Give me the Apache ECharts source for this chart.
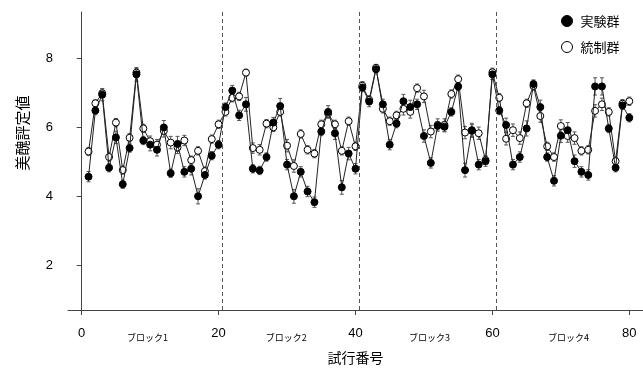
<!DOCTYPE html>
<html>
<head>
<meta charset="utf-8">
<script src="https://cdn.jsdelivr.net/npm/echarts@6/dist/echarts.min.js"></script>
<style>html,body{margin:0;padding:0;background:#fff}#c{width:643px;height:370px}</style>
</head>
<body>
<div id="c"></div>
<script>
// trials 1..80
const trials = Array.from({length: 80}, (_, i) => i + 1);
// 実験群 (filled)
const expVals = [4.57,6.49,6.95,4.83,5.71,4.35,5.40,7.54,5.62,5.50, 5.35,6.00,4.67,5.52,4.71,4.80,4.00,4.62,5.18,5.50,
  6.59,7.07,6.35,6.67,4.80,4.75,5.14,6.14,6.62,4.92, 4.00,4.71,4.14,3.83,5.88,6.45,5.83,4.26,5.24,4.80,
  7.16,6.75,7.69,6.67,5.50,6.11,6.76,6.59,6.67,5.75, 4.97,6.05,6.02,6.45,7.19,4.76,5.92,4.92,5.02,7.54,
  6.49,6.07,4.92,5.14,5.97,7.26,6.59,5.14,4.45,5.76, 5.92,5.02,4.71,4.62,7.19,7.19,5.97,4.83,6.64,6.28];
// 統制群 (open)
const ctrlVals = [5.30,6.70,6.99,5.14,6.14,4.76,5.70,7.59,5.97,5.60, 5.50,5.90,5.56,5.42,5.62,5.05,5.32,4.73,5.66,6.09,
  6.45,6.86,6.90,7.59,5.40,5.35,6.11,6.00,6.45,5.47, 4.88,5.81,5.35,5.24,6.09,6.40,6.09,5.32,6.18,5.45,
  7.21,6.80,7.73,6.54,6.18,6.35,6.54,6.45,7.14,6.90, 5.88,6.07,6.07,6.97,7.40,5.85,5.90,5.83,5.05,7.60,
  6.86,5.67,5.92,5.69,6.70,7.20,6.33,5.45,5.14,6.04, 5.75,5.69,5.32,5.35,6.48,6.67,6.45,5.02,6.69,6.76];
// standard errors (estimated)
const expSE = [0.15,0.12,0.18,0.12,0.18,0.12,0.12,0.2,0.12,0.18, 0.18,0.2,0.12,0.22,0.15,0.18,0.22,0.12,0.12,0.12,
  0.12,0.15,0.15,0.2,0.12,0.12,0.12,0.15,0.22,0.15, 0.2,0.15,0.15,0.15,0.12,0.18,0.18,0.2,0.18,0.15,
  0.12,0.15,0.1,0.15,0.15,0.12,0.2,0.2,0.15,0.18, 0.15,0.12,0.15,0.12,0.12,0.2,0.2,0.15,0.15,0.15,
  0.12,0.2,0.15,0.15,0.22,0.12,0.2,0.12,0.15,0.2, 0.22,0.18,0.15,0.15,0.25,0.25,0.12,0.12,0.12,0.12];
const ctrlSE = [0.12,0.1,0.12,0.12,0.12,0.12,0.12,0.12,0.12,0.15, 0.15,0.18,0.18,0.18,0.15,0.12,0.12,0.12,0.12,0.12,
  0.12,0.12,0.12,0.1,0.15,0.15,0.12,0.12,0.12,0.18, 0.18,0.12,0.12,0.12,0.12,0.12,0.12,0.12,0.12,0.12,
  0.12,0.12,0.1,0.12,0.12,0.12,0.18,0.18,0.12,0.18, 0.18,0.18,0.18,0.12,0.12,0.18,0.18,0.18,0.12,0.12,
  0.12,0.18,0.18,0.18,0.12,0.12,0.18,0.12,0.12,0.18, 0.18,0.18,0.12,0.12,0.18,0.18,0.12,0.12,0.12,0.12];
const xTicks = [0, 20, 40, 60, 80];
const yTicks = [2, 4, 6, 8];
const blockNames = ['ブロック1', 'ブロック2', 'ブロック3', 'ブロック4'];
const blockPos = [9.6, 29.9, 50.8, 71.1];
const blockBounds = [20.5, 40.5, 60.5];

const FONT = '"Liberation Sans", Arial, sans-serif';
const JFONT = '"Noto Sans CJK JP", sans-serif';

function errData(vals, se) { return trials.map((t, i) => [t, vals[i], se[i]]); }
function errRender(params, api) {
  const x = api.value(0), v = api.value(1), s = api.value(2);
  const hi = api.coord([x, v + s]), lo = api.coord([x, v - s]);
  const w = 2;
  const st = { stroke: '#555', lineWidth: 1 };
  return { type: 'group', children: [
    { type: 'line', shape: { x1: hi[0], y1: hi[1], x2: lo[0], y2: lo[1] }, style: st },
    { type: 'line', shape: { x1: hi[0] - w, y1: hi[1], x2: hi[0] + w, y2: hi[1] }, style: st },
    { type: 'line', shape: { x1: lo[0] - w, y1: lo[1], x2: lo[0] + w, y2: lo[1] }, style: st }
  ]};
}

const chart = echarts.init(document.getElementById('c'), null, { renderer: 'canvas' });
chart.setOption({
  animation: false,
  backgroundColor: '#fff',
  grid: { left: 68, right: 0, top: 12, bottom: 55 },
  legend: {
    orient: 'vertical', left: 556, top: 9, itemWidth: 11, itemHeight: 11, itemGap: 12,
    icon: 'circle',
    textStyle: { fontFamily: JFONT, fontSize: 13, color: '#000', lineHeight: 14, padding: [0, 0, 0, 3] },
    data: [
      { name: '実験群', itemStyle: { color: '#000', borderColor: '#000', borderWidth: 1 } },
      { name: '統制群', itemStyle: { color: '#fff', borderColor: '#000', borderWidth: 1 } }
    ]
  },
  xAxis: [{
    type: 'value', min: -2, max: 82,
    name: '試行番号', nameLocation: 'middle', nameGap: 41,
    nameTextStyle: { fontFamily: JFONT, fontSize: 14, color: '#000' },
    axisLine: { show: true, lineStyle: { color: '#444', width: 1 } },
    axisTick: { show: true, inside: false, length: 5, customValues: xTicks, lineStyle: { color: '#444' } },
    axisLabel: { customValues: xTicks, margin: 17, fontFamily: FONT, fontSize: 13, color: '#000' },
    splitLine: { show: false }
  }, {
    type: 'value', min: -2, max: 82, position: 'bottom',
    axisLine: { show: false }, axisTick: { show: false }, splitLine: { show: false },
    axisLabel: { customValues: blockPos, margin: 23, fontFamily: JFONT, fontSize: 9, color: '#000',
      formatter: (v) => blockNames[blockPos.indexOf(v)] }
  }],
  yAxis: {
    type: 'value', min: 0.7, max: 9.35,
    axisLine: { show: true, lineStyle: { color: '#444', width: 1 } },
    axisTick: { show: true, length: 5, customValues: yTicks, lineStyle: { color: '#444' } },
    axisLabel: { customValues: yTicks, margin: 15, fontFamily: FONT, fontSize: 13, color: '#000' },
    splitLine: { show: false }
  },
  graphic: [{
    type: 'text', x: 22, y: 133, rotation: Math.PI / 2,
    style: { text: '美醜評定値', fontFamily: JFONT, fontSize: 15, fill: '#000', align: 'center', verticalAlign: 'middle' }
  }],
  series: [
    { type: 'custom', name: 'errExp', renderItem: errRender, data: errData(expVals, expSE), encode: { x: 0, y: 1 }, z: 1, silent: true },
    { type: 'custom', name: 'errCtrl', renderItem: errRender, data: errData(ctrlVals, ctrlSE), encode: { x: 0, y: 1 }, z: 1, silent: true },
    {
      type: 'line', name: '統制群', data: trials.map((t, i) => [t, ctrlVals[i]]),
      symbol: 'circle', symbolSize: 7, showAllSymbol: true,
      lineStyle: { color: '#222', width: 1 },
      itemStyle: { color: '#fff', borderColor: '#000', borderWidth: 1 }, z: 3,
      markLine: {
        silent: true, symbol: 'none', label: { show: false },
        lineStyle: { color: '#555', type: [4, 3], width: 1 },
        data: blockBounds.map(b => ({ xAxis: b }))
      }
    },
    {
      type: 'line', name: '実験群', data: trials.map((t, i) => [t, expVals[i]]),
      symbol: 'circle', symbolSize: 7, showAllSymbol: true,
      lineStyle: { color: '#222', width: 1 },
      itemStyle: { color: '#000', borderColor: '#000', borderWidth: 1 }, z: 4
    }
  ]
});
</script>
</body>
</html>
